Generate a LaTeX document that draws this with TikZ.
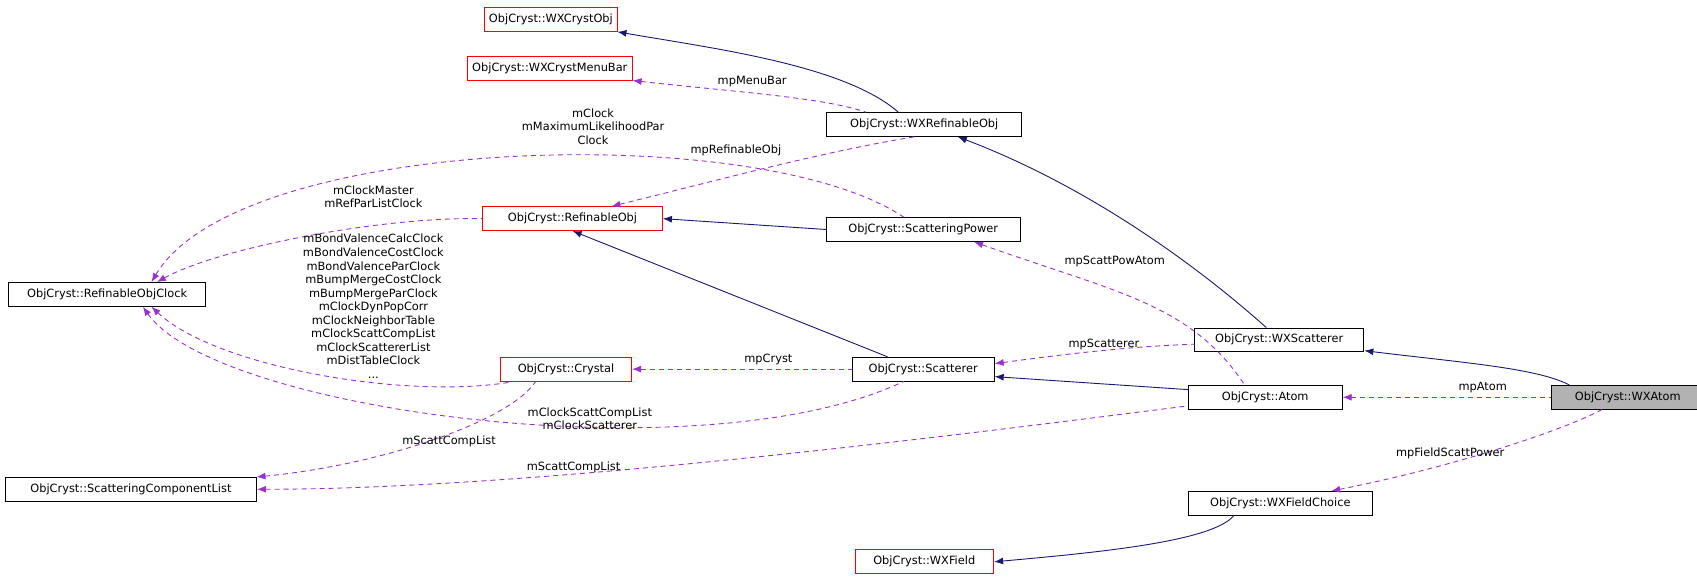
\documentclass[tikz,border=0pt]{standalone}
\usepackage{fontspec}
\setmainfont{DejaVu Sans}
\usetikzlibrary{arrows.meta}
\definecolor{navy}{RGB}{25,25,112}
\definecolor{usecol}{RGB}{153,50,204}
\begin{document}
\begin{tikzpicture}[x=1pt,y=-1pt,scale=1.0823,every node/.style={transform shape},
  font=\fontsize{10.5}{12.5}\selectfont,
  box/.style={draw=black,fill=white,inner sep=0pt,minimum height=22pt,line width=0.8pt},
  redbox/.style={box,draw=red},
  inh/.style={navy,line width=0.9pt,<-,>={Latex[length=9pt,width=7pt]}},
  use/.style={usecol,line width=0.9pt,dashed,dash pattern=on 5pt off 4pt,<-,>={Latex[length=9pt,width=7pt]}},
  lbl/.style={black,align=center,inner sep=0pt}]
\useasboundingbox (0,0) rectangle (1568,540);

% classes
\node[redbox,minimum width=122pt] (wxcrystobj) at (509,18) {ObjCryst::WXCrystObj};
\node[redbox,minimum width=152pt] (menubar) at (508,63) {ObjCryst::WXCrystMenuBar};
\node[box,minimum width=180pt] (wxrefobj) at (854,115) {ObjCryst::WXRefinableObj};
\node[redbox,minimum width=166pt] (refobj) at (529,202) {ObjCryst::RefinableObj};
\node[box,minimum width=179pt] (scattpow) at (853,212) {ObjCryst::ScatteringPower};
\node[box,minimum width=182pt] (clock) at (99,272) {ObjCryst::RefinableObjClock};
\node[box,minimum width=156pt] (wxscatt) at (1182,314) {ObjCryst::WXScatterer};
\node[redbox,minimum width=121pt] (crystal) at (523,341) {ObjCryst::Crystal};
\node[box,minimum width=131pt] (scatt) at (853,341) {ObjCryst::Scatterer};
\node[box,minimum width=142pt] (atom) at (1169,367) {ObjCryst::Atom};
\node[box,minimum width=142pt,fill=gray!60] (wxatom) at (1504,367) {ObjCryst::WXAtom};
\node[box,minimum width=232pt] (complist) at (121,452) {ObjCryst::ScatteringComponentList};
\node[box,minimum width=170pt] (fieldchoice) at (1183,465) {ObjCryst::WXFieldChoice};
\node[redbox,minimum width=128pt] (wxfield) at (854,519) {ObjCryst::WXField};

% inheritance
\draw[inh] (wxcrystobj.south east) .. controls (660,45) and (780,60) .. (wxrefobj.north west -| 830,0);
\draw[inh] (wxrefobj.south -| 885,0) .. controls (1000,170) and (1100,240) .. (wxscatt.north -| 1170,0);
\draw[inh] (refobj.south) -- (scatt.north west -| 820,0);
\draw[inh] (refobj.east) -- (scattpow.west);
\draw[inh] (scatt.east |- 0,348) -- (atom.west |- 0,360);
\draw[inh] (wxscatt.east |- 0,324) .. controls (1350,335) and (1420,340) .. (wxatom.north west -| 1450,0);
\draw[inh] (wxfield.east) .. controls (1020,510) and (1120,500) .. (fieldchoice.south -| 1140,0);

% usage
\draw[use] (menubar.south east) .. controls (680,85) and (760,90) .. (wxrefobj.north west -| 800,0);
\draw[use] (refobj.north east -| 565,0) .. controls (650,170) and (760,140) .. (wxrefobj.south -| 845,0);
\draw[use] (clock.north -| 140,0) .. controls (220,125) and (700,110) .. (scattpow.north -| 835,0);
\draw[use] (clock.north -| 145,0) .. controls (200,230) and (350,200) .. (refobj.west);
\draw[use] (clock.south -| 140,0) .. controls (200,340) and (380,370) .. (crystal.south west -| 475,0);
\draw[use] (clock.south -| 132,0) .. controls (200,380) and (650,440) .. (scatt.south -| 835,0);
\draw[use] (complist.north east -| 237,443) .. controls (350,430) and (470,390) .. (crystal.south -| 495,0);
\draw[use] (complist.east) .. controls (500,452) and (900,400) .. (atom.west |- 0,375);
\draw[use] (crystal.east) -- (scatt.west);
\draw[use] (scatt.east |- 0,336) .. controls (1000,325) and (1050,320) .. (wxscatt.west |- 0,318);
\draw[use] (scattpow.south -| 900,0) .. controls (1030,270) and (1100,280) .. (atom.north -| 1150,0);
\draw[use] (atom.east) -- (wxatom.west);
\draw[use] (fieldchoice.north -| 1230,0) .. controls (1350,430) and (1450,395) .. (wxatom.south -| 1480,0);

% labels
\node[lbl] (lmenubar) at (695,75) {mpMenuBar};
\node[lbl] (lrefobj) at (680,139) {mpRefinableObj};
\node[lbl] (lclock) at (548,117) {mClock\\mMaximumLikelihoodPar\\Clock};
\node[lbl] (lmaster) at (345,182) {mClockMaster\\mRefParListClock};
\node[lbl] (lcrystclock) at (345,283) {mBondValenceCalcClock\\mBondValenceCostClock\\mBondValenceParClock\\mBumpMergeCostClock\\mBumpMergeParClock\\mClockDynPopCorr\\mClockNeighborTable\\mClockScattCompList\\mClockScattererList\\mDistTableClock\\...};
\node[lbl] (lscattclock) at (545,387) {mClockScattCompList\\mClockScatterer};
\node[lbl] (lcrystlist) at (415,408) {mScattCompList};
\node[lbl] (latomlist) at (530,432) {mScattCompList};
\node[lbl] (lcryst) at (710,332) {mpCryst};
\node[lbl] (lscatterer) at (1020,318) {mpScatterer};
\node[lbl] (lscattpow) at (1030,242) {mpScattPowAtom};
\node[lbl] (latom) at (1370,358) {mpAtom};
\node[lbl] (lfield) at (1340,419) {mpFieldScattPower};
\end{tikzpicture}
\end{document}
